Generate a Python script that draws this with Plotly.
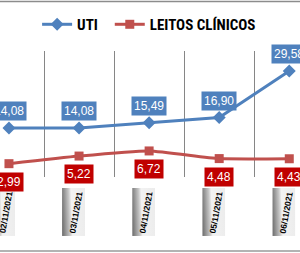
import base64
import plotly.graph_objects as go

categories = ["02/11/2021", "03/11/2021", "04/11/2021", "05/11/2021", "06/11/2021"]
uti = [14.08, 14.08, 15.49, 16.90, 29.58]
leitos = [2.99, 5.22, 6.72, 4.48, 4.43]

BLUE = "#4F81BD"
RED_LINE = "#C0504D"
RED_BOX = "#C00000"
FONT = "Liberation Sans Narrow, Roboto Condensed, DejaVu Sans Condensed, Liberation Sans, sans-serif"

xs = list(range(len(categories)))

fig = go.Figure()
fig.add_trace(go.Scatter(
    x=xs, y=uti, name="UTI\u00a0\u00a0", mode="lines+markers",
    line=dict(color=BLUE, width=3),
    marker=dict(symbol="diamond", size=10, color=BLUE),
    yaxis="y",
))
fig.add_trace(go.Scatter(
    x=xs, y=leitos, name="LEITOS CLÍNICOS", mode="lines+markers",
    line=dict(color=RED_LINE, width=3, shape="spline", smoothing=0.5),
    marker=dict(symbol="square", size=9, color=RED_LINE),
    yaxis="y2",
))

def fmt(v):
    return f"{v:.2f}".replace(".", ",")

svg = (
    '<svg xmlns="http://www.w3.org/2000/svg" width="23" height="48" viewBox="0 0 23 48" preserveAspectRatio="none">'
    '<defs><linearGradient id="g" x1="0" y1="0.5" x2="1" y2="0.42">'
    '<stop offset="0" stop-color="#737373"/>'
    '<stop offset="0.3" stop-color="#c4c4c4"/>'
    '<stop offset="0.42" stop-color="#f2f2f2"/>'
    '<stop offset="1" stop-color="#ececec"/>'
    '</linearGradient></defs>'
    '<rect x="0" y="0" width="23" height="48" fill="url(#g)"/></svg>'
)
src = "data:image/svg+xml;base64," + base64.b64encode(svg.encode()).decode()

annotations = []
images = []
for x, c in zip(xs, categories):
    images.append(dict(
        source=src, xref="x", yref="paper", x=x - 0.078, y=-0.087,
        sizex=0.328, sizey=0.381, xanchor="center", yanchor="top",
        sizing="stretch", layer="below",
    ))
    annotations.append(dict(
        x=x - 0.04, y=-0.28, xref="x", yref="paper", text="<b>" + c + "</b>", showarrow=False,
        textangle=-80, xanchor="center", yanchor="middle",
        font=dict(family="Liberation Sans, Arial, sans-serif", size=8.5, color="black"),
    ))

for x, v in zip(xs, uti):
    annotations.append(dict(
        x=x, y=v, xref="x", yref="y", text=fmt(v), showarrow=False,
        yshift=17, bgcolor=BLUE, borderpad=2,
        font=dict(family="Liberation Sans, Arial, sans-serif", size=12, color="white"),
    ))
for x, v in zip(xs, leitos):
    annotations.append(dict(
        x=x, y=v, xref="x", yref="y2", text=fmt(v), showarrow=False,
        yshift=-18, bgcolor=RED_BOX, borderpad=2,
        font=dict(family="Liberation Sans, Arial, sans-serif", size=12, color="white"),
    ))

shapes = [
    dict(type="line", xref="paper", yref="paper", x0=-0.1, x1=1.1, y0=1.393, y1=1.393,
         line=dict(color="#8c8c8c", width=1.5)),
    dict(type="line", xref="paper", yref="paper", x0=-0.1, x1=1.1, y0=-0.587, y1=-0.587,
         line=dict(color="#9a9a9a", width=1.5)),
]

fig.update_layout(
    width=300, height=253,
    margin=dict(l=0, r=0, t=51, b=76),
    paper_bgcolor="white", plot_bgcolor="white",
    showlegend=True,
    legend=dict(
        orientation="h", x=0.497, y=1.21, xanchor="center", yanchor="middle",
        font=dict(family=FONT, size=15, color="black", weight="bold"),
        itemwidth=30, tracegroupgap=0, bgcolor="rgba(0,0,0,0)",
    ),
    xaxis=dict(
        range=[-0.128, 4.153], showticklabels=False, showgrid=False, zeroline=False,
        showline=False, ticks="", fixedrange=True,
        minor=dict(tickmode="array", tickvals=[-0.5, 0.5, 1.5, 2.5, 3.5, 4.5],
                   showgrid=True, gridcolor="#868686", gridwidth=1, ticks=""),
    ),
    yaxis=dict(range=[0.76, 35.0], visible=False, showgrid=False, zeroline=False),
    yaxis2=dict(range=[-0.91, 35.98], overlaying="y", visible=False, showgrid=False, zeroline=False),
    annotations=annotations,
    images=images,
    shapes=shapes,
)

fig.write_html("out.html")
